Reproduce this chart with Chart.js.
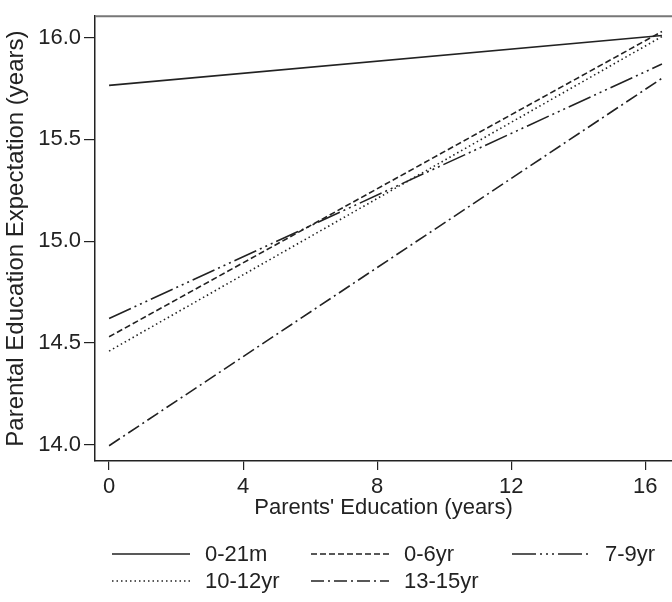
<!DOCTYPE html>
<html>
<head>
<meta charset="utf-8">
<script src="https://cdn.jsdelivr.net/npm/chart.js@4/dist/chart.umd.min.js"></script>
<style>
  html, body { margin: 0; padding: 0; background: #fff; }
  #wrap { width: 672px; height: 602px; }
</style>
</head>
<body>
<div id="wrap"><canvas id="chart" width="672" height="602"></canvas></div>
<script>
// Parents' education (x) at the two ends of each fitted line
const xValues = [0, 16.5];

// Parental education expectation by child age group
const seriesLabels = ['0-21m', '0-6yr', '7-9yr', '10-12yr', '13-15yr'];
const age0to21m = [15.765, 16.01];
const age0to6 = [14.53, 16.03];
const age7to9 = [14.62, 15.87];
const age10to12 = [14.46, 16.005];
const age13to15 = [13.995, 15.80];

const xTicks = [0, 4, 8, 12, 16];
const yTicks = [14.0, 14.5, 15.0, 15.5, 16.0];

const dashes = [
    [],
    [6, 3],
    [24, 4, 2, 4, 2, 4, 2, 4],
    [1.5, 3],
    [13, 4, 2, 4]
];
const values = [age0to21m, age0to6, age7to9, age10to12, age13to15];

const ink = '#222';
const font = "'Liberation Sans', Arial, sans-serif";

const datasets = values.map((v, i) => ({
    label: seriesLabels[i],
    data: xValues.map((x, j) => ({ x: x, y: v[j] })),
    borderColor: ink,
    borderWidth: 1.6,
    borderDash: dashes[i],
    pointRadius: 0,
    fill: false,
    tension: 0
}));

// Top frame line (grey) like the original
const topFrame = {
    id: 'topFrame',
    afterDraw(chart) {
        const { ctx, chartArea } = chart;
        ctx.save();
        ctx.strokeStyle = '#777';
        ctx.lineWidth = 2;
        ctx.beginPath();
        ctx.moveTo(chartArea.left, chartArea.top);
        ctx.lineTo(chart.width, chartArea.top);
        ctx.stroke();
        ctx.restore();
    }
};

// Legend laid out in a 3-column grid under the axis
const gridLegend = {
    id: 'gridLegend',
    afterDraw(chart) {
        const ctx = chart.ctx;
        const colX = [112, 311, 512];
        const rowY = [554, 581];
        const lineLen = 78;
        ctx.save();
        ctx.font = '22px ' + font;
        ctx.fillStyle = ink;
        ctx.textBaseline = 'middle';
        chart.data.datasets.forEach((ds, i) => {
            const x = colX[i % 3];
            const y = rowY[Math.floor(i / 3)];
            ctx.strokeStyle = ink;
            ctx.lineWidth = 1.6;
            ctx.setLineDash(ds.borderDash);
            ctx.beginPath();
            ctx.moveTo(x, y);
            ctx.lineTo(x + lineLen, y);
            ctx.stroke();
            ctx.setLineDash([]);
            ctx.fillText(ds.label, x + lineLen + 15, y + 1);
        });
        ctx.restore();
    }
};

new Chart(document.getElementById('chart').getContext('2d'), {
    type: 'line',
    data: { datasets: datasets },
    plugins: [topFrame, gridLegend],
    options: {
        responsive: false,
        animation: false,
        layout: { padding: { left: 0, top: 5, right: 0, bottom: 81 } },
        plugins: {
            legend: { display: false },
            tooltip: { enabled: false }
        },
        scales: {
            x: {
                type: 'linear',
                min: -0.42,
                max: 16.8,
                afterBuildTicks: (scale) => { scale.ticks = xTicks.map(v => ({ value: v })); },
                afterFit: (scale) => { scale.height = 60; },
                border: { display: true, color: ink, width: 1.5 },
                grid: { drawOnChartArea: false, drawTicks: true, tickLength: 9, color: ink, lineWidth: 1.2 },
                ticks: { color: ink, font: { family: font, size: 22 }, padding: 4, maxRotation: 0 },
                title: {
                    display: true,
                    text: "Parents' Education (years)",
                    color: ink,
                    font: { family: font, size: 22 },
                    padding: 0
                }
            },
            y: {
                min: 13.92,
                max: 16.105,
                afterBuildTicks: (scale) => { scale.ticks = yTicks.map(v => ({ value: v })); },
                afterFit: (scale) => { scale.width = 95; },
                border: { display: true, color: ink, width: 1.5 },
                grid: { drawOnChartArea: false, drawTicks: true, tickLength: 11, color: ink, lineWidth: 1.2 },
                ticks: {
                    color: ink,
                    font: { family: font, size: 22 },
                    padding: 3,
                    callback: (v) => v.toFixed(1)
                },
                title: {
                    display: true,
                    text: 'Parental Education Expectation (years)',
                    color: ink,
                    font: { family: font, size: 24 },
                    padding: { top: 2, bottom: 0 }
                }
            }
        }
    }
});
</script>
</body>
</html>
